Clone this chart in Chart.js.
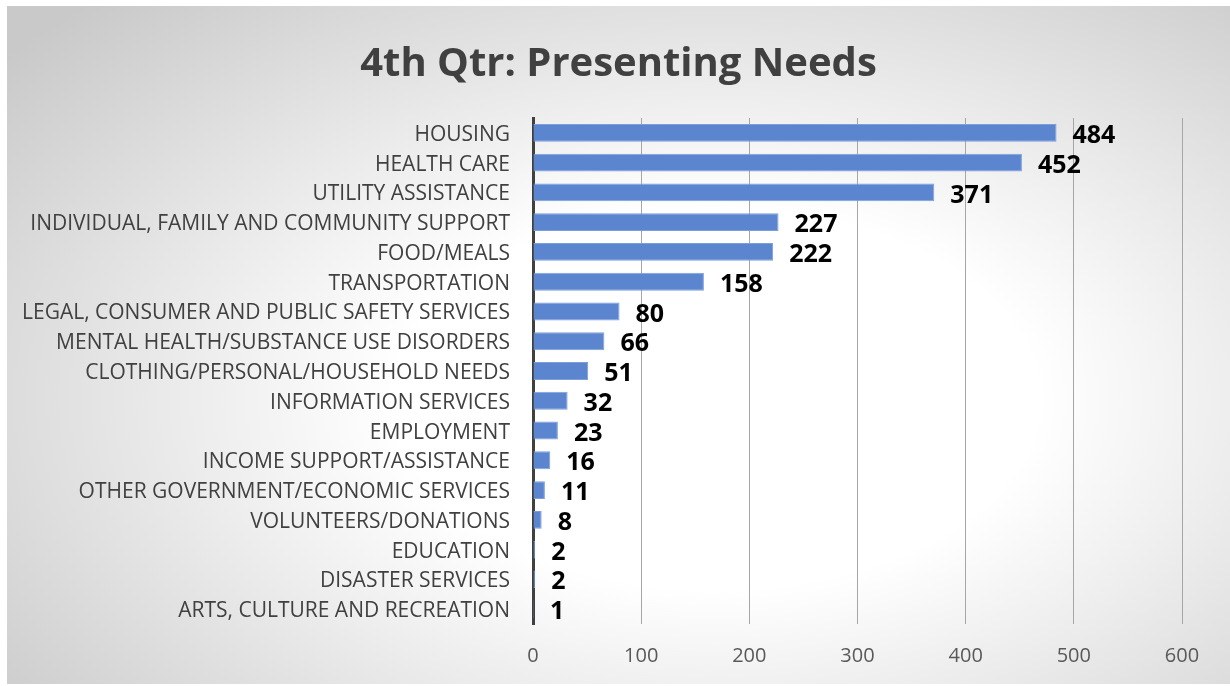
<!DOCTYPE html>
<html>
<head>
<meta charset="utf-8">
<script src="https://cdn.jsdelivr.net/npm/chart.js@4/dist/chart.umd.min.js"></script>
<style>
body { margin: 0; background: #fff; }
#frame {
    position: absolute; left: 7px; top: 6px; width: 1223px; height: 678px;
    background: radial-gradient(ellipse 75% 80% at 58% 58%, #ffffff 35%, #c9c9c9 100%);
}
</style>
</head>
<body>
<div id="frame"><canvas id="chart" width="1223" height="678"></canvas></div>
<script>
var titleText = '4th Qtr: Presenting Needs';

var categories = [
    'HOUSING', 'HEALTH CARE', 'UTILITY ASSISTANCE',
    'INDIVIDUAL, FAMILY AND COMMUNITY SUPPORT', 'FOOD/MEALS', 'TRANSPORTATION',
    'LEGAL, CONSUMER AND PUBLIC SAFETY SERVICES', 'MENTAL HEALTH/SUBSTANCE USE DISORDERS',
    'CLOTHING/PERSONAL/HOUSEHOLD NEEDS', 'INFORMATION SERVICES', 'EMPLOYMENT',
    'INCOME SUPPORT/ASSISTANCE', 'OTHER GOVERNMENT/ECONOMIC SERVICES',
    'VOLUNTEERS/DONATIONS', 'EDUCATION', 'DISASTER SERVICES', 'ARTS, CULTURE AND RECREATION'
];

var needCounts = [484, 452, 371, 227, 222, 158, 80, 66, 51, 32, 23, 16, 11, 8, 2, 2, 1];

var axisMin = 0;
var axisMax = 600;
var axisStep = 100;

var fontFamily = '"Open Sans", "DejaVu Sans", sans-serif';

// title drawn by hand so it sits centred on the whole frame,
// not on the padded layout box
var centredTitle = {
    id: 'centredTitle',
    afterDraw: function(chart) {
        var ctx = chart.ctx;
        ctx.save();
        ctx.font = 'bold 40px ' + fontFamily;
        ctx.fillStyle = '#404040';
        ctx.textAlign = 'center';
        ctx.textBaseline = 'alphabetic';
        ctx.fillText(titleText, chart.width / 2, 70);
        ctx.restore();
    }
};

// draws the bold value to the right of each bar
var valueLabels = {
    id: 'valueLabels',
    afterDatasetsDraw: function(chart) {
        var ctx = chart.ctx;
        var meta = chart.getDatasetMeta(0);
        ctx.save();
        ctx.font = 'bold 25px ' + fontFamily;
        ctx.fillStyle = '#000000';
        ctx.textAlign = 'left';
        ctx.textBaseline = 'middle';
        for (var i = 0; i < meta.data.length; i++) {
            var bar = meta.data[i];
            ctx.fillText(String(chart.data.datasets[0].data[i]), bar.x + 16, bar.y + 3);
        }
        ctx.restore();
    }
};

var chart = new Chart(document.getElementById('chart').getContext('2d'), {
    type: 'bar',
    data: {
        labels: categories,
        datasets: [{
            data: needCounts,
            backgroundColor: '#5b86cf',
            borderColor: '#7c9edb',
            borderWidth: 1,
            barPercentage: 0.6,
            categoryPercentage: 1.0
        }]
    },
    options: {
        indexAxis: 'y',
        responsive: false,
        animation: false,
        layout: { padding: { left: 0, right: 48, top: 112, bottom: 0 } },
        plugins: {
            legend: { display: false },
            tooltip: { enabled: false },
            title: { display: false }
        },
        scales: {
            x: {
                min: axisMin,
                max: axisMax,
                ticks: {
                    stepSize: axisStep,
                    color: '#595959',
                    padding: 20,
                    font: { family: fontFamily, size: 20 }
                },
                grid: { color: '#a6a6a6', lineWidth: 1, drawTicks: false },
                border: { display: false },
                afterFit: function(scale) { scale.height = 60; }
            },
            y: {
                ticks: {
                    color: '#404040',
                    padding: 23,
                    labelOffset: 2,
                    autoSkip: false,
                    font: { family: fontFamily, size: 21 }
                },
                grid: { display: false, drawTicks: false },
                border: { display: true, color: '#404040', width: 3 },
                afterFit: function(scale) { scale.width = 526; }
            }
        }
    },
    plugins: [valueLabels, centredTitle]
});
</script>
</body>
</html>
